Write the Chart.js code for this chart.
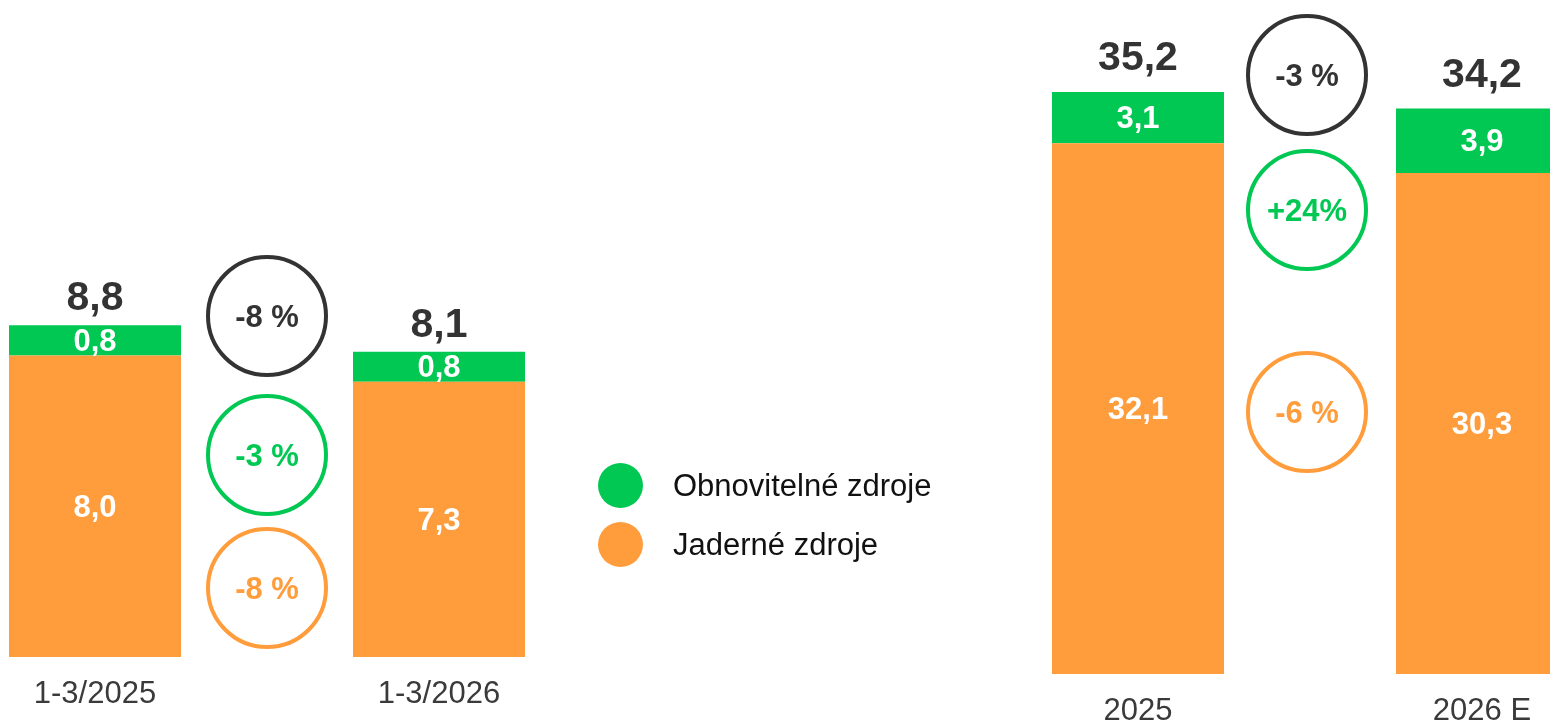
<!DOCTYPE html>
<html>
<head>
<meta charset="utf-8">
<script src="https://cdn.jsdelivr.net/npm/chart.js@4.4.1/dist/chart.umd.min.js"></script>
<style>
  html, body { margin: 0; padding: 0; background: #fff; overflow: hidden; width: 1550px; height: 724px; }
  body { position: relative; font-family: "Liberation Sans", Arial, sans-serif; }
  canvas { position: absolute; top: 0; }
  #quarter { left: -77px; }
  #year { left: 966px; }
  .legend { position: absolute; left: 598px; top: 456px; }
  .legend .item { display: flex; align-items: center; height: 59px; font-size: 31px; color: #111; }
  .legend .dot { width: 45px; height: 45px; border-radius: 50%; margin-right: 30px; }
</style>
</head>
<body>
<canvas id="quarter" width="688" height="724"></canvas>
<canvas id="year" width="688" height="724"></canvas>
<div class="legend" id="legend"></div>

<script>
// -------------------------
// DATA
// -------------------------
const quarterLabels = ["1-3/2025", "1-3/2026"];
const quarterRenewable = [0.8, 0.8];
const quarterNuclear = [8.0, 7.3];
const quarterChange = ["-8 %", "-3 %", "-8 %"]; // total, renewable, nuclear

const yearLabels = ["2025", "2026 E"];
const yearRenewable = [3.1, 3.9];
const yearNuclear = [32.1, 30.3];
const yearChange = ["-3 %", "+24%", "-6 %"];

const seriesNames = ["Obnovitelné zdroje", "Jaderné zdroje"];

const GREEN = "#00C853";
const ORANGE = "#FF9D3C";
const DARK = "#333333";
const FONT = "'Liberation Sans', Arial, sans-serif";

function fmt(v) {
  return v.toFixed(1).replace(".", ",");
}

// -------------------------
// LABELS + CIRCLES PLUGIN
// -------------------------
const decorPlugin = {
  id: "decor",
  afterDatasetsDraw(chart, args, opts) {
    const ctx = chart.ctx;
    const nuc = chart.getDatasetMeta(0);
    const ren = chart.getDatasetMeta(1);
    ctx.save();
    ctx.textAlign = "center";

    nuc.data.forEach((bar, i) => {
      const top = ren.data[i];
      // segment values
      ctx.fillStyle = "#fff";
      ctx.font = "bold 31px " + FONT;
      ctx.textBaseline = "middle";
      ctx.fillText(fmt(chart.data.datasets[0].data[i]), bar.x, (bar.y + bar.base) / 2 + 2);
      ctx.fillText(fmt(chart.data.datasets[1].data[i]), top.x, (top.y + top.base) / 2 + 2);
      // total
      const total = chart.data.datasets[0].data[i] + chart.data.datasets[1].data[i];
      ctx.fillStyle = DARK;
      ctx.font = "bold 41px " + FONT;
      ctx.textBaseline = "alphabetic";
      ctx.fillText(fmt(total), top.x, top.y - opts.totalGap);
    });

    // change circles
    const cx = (nuc.data[0].x + nuc.data[1].x) / 2 + (opts.dx || 0);
    const colors = [DARK, GREEN, ORANGE];
    opts.circleY.forEach((cy, k) => {
      ctx.beginPath();
      ctx.arc(cx, cy, 59, 0, Math.PI * 2);
      ctx.lineWidth = 4;
      ctx.strokeStyle = colors[k];
      ctx.stroke();
      ctx.fillStyle = colors[k];
      ctx.font = "bold 31px " + FONT;
      ctx.textBaseline = "middle";
      ctx.fillText(opts.changes[k], cx, cy + 2);
    });
    ctx.restore();
  }
};

// -------------------------
// INIT CHART
// -------------------------
function makeChart(id, labels, nuclear, renewable, yMax, axisHeight, decor) {
  const ctx = document.getElementById(id).getContext("2d");
  return new Chart(ctx, {
    type: "bar",
    data: {
      labels: labels,
      datasets: [
        { label: seriesNames[1], data: nuclear, backgroundColor: ORANGE },
        { label: seriesNames[0], data: renewable, backgroundColor: GREEN }
      ]
    },
    options: {
      responsive: false,
      devicePixelRatio: 1,
      animation: false,
      layout: { padding: 0 },
      datasets: { bar: { barPercentage: 0.5, categoryPercentage: 1 } },
      scales: {
        x: {
          stacked: true,
          grid: { display: false, drawTicks: false },
          border: { display: false },
          ticks: { color: "#3a3a3a", font: { family: FONT, size: 31 }, padding: 19, maxRotation: 0 },
          afterFit: (scale) => { scale.height = axisHeight; }
        },
        y: { stacked: true, display: false, min: 0, max: yMax }
      },
      plugins: {
        legend: { display: false },
        tooltip: { enabled: false },
        decor: decor
      }
    },
    plugins: [decorPlugin]
  });
}

makeChart("quarter", quarterLabels, quarterNuclear, quarterRenewable, 17.43, 67,
  { totalGap: 15, circleY: [316, 455, 588], changes: quarterChange, dx: 0 });
makeChart("year", yearLabels, yearNuclear, yearRenewable, 40.77, 50,
  { totalGap: 22, circleY: [75, 210, 412], changes: yearChange, dx: -3 });

// -------------------------
// LEGEND
// -------------------------
const legendEl = document.getElementById("legend");
[[seriesNames[0], GREEN], [seriesNames[1], ORANGE]].forEach(([name, color]) => {
  legendEl.innerHTML += '<div class="item"><span class="dot" style="background:' + color + '"></span>' + name + '</div>';
});
</script>
</body>
</html>
